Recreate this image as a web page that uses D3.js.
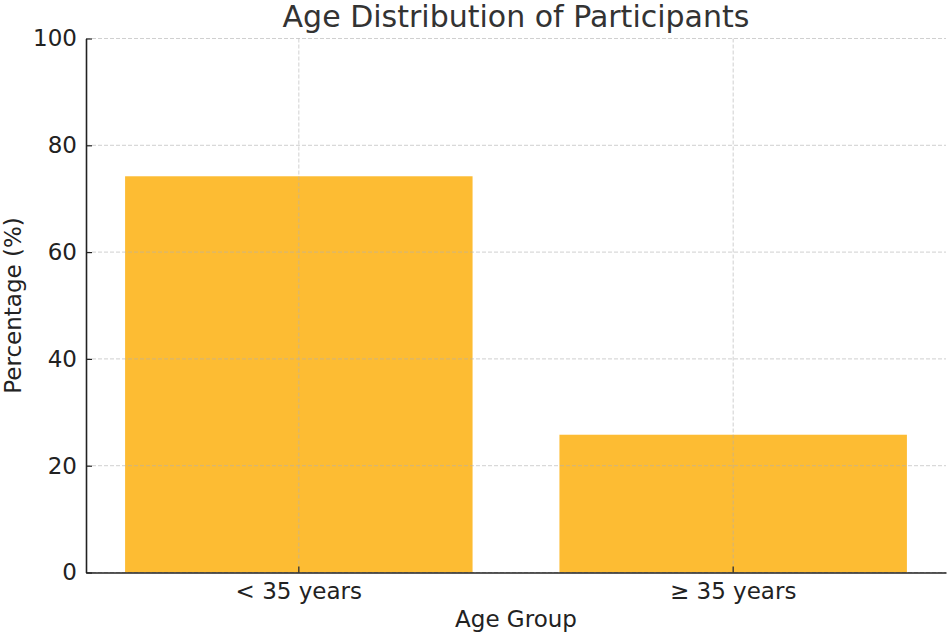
<!DOCTYPE html>
<html>
<head>
<meta charset="utf-8">
<script src="https://cdn.jsdelivr.net/npm/d3@7"></script>
<style>
  body { margin: 0; background: #fff; }
  svg { font-family: "DejaVu Sans", sans-serif; }
</style>
</head>
<body>
<div id="chart"></div>
<script>
// data
const categories = ["< 35 years", "\u2265 35 years"];
const percentages = [74.2, 25.8];
const yTicks = [0, 20, 40, 60, 80, 100];

const wid = 950;
const hei = 636;

// plot area edges
const padLeft = 86;
const padRight = 946;
const padTop = 38.5;
const padBottom = 572.5;

const svg = d3.select("#chart")
    .append("svg")
    .attr("width", wid)
    .attr("height", hei);

// scales
const xScale = d3.scaleBand()
    .domain(categories)
    .range([padLeft, padRight])
    .paddingInner(0.2)
    .paddingOuter(0.09);

const yScale = d3.scaleLinear()
    .domain([0, 100])
    .range([padBottom, padTop]);

// bars
svg.selectAll("rect.bar")
    .data(categories)
    .enter()
    .append("rect")
    .attr("class", "bar")
    .attr("x", d => xScale(d))
    .attr("y", (d, i) => yScale(percentages[i]))
    .attr("width", xScale.bandwidth())
    .attr("height", (d, i) => padBottom - yScale(percentages[i]))
    .attr("fill", "#fdbc33");

// grid lines, drawn over the bars like the original
const grid = svg.append("g")
    .attr("stroke", "#b0b0b0")
    .attr("stroke-opacity", 0.6)
    .attr("stroke-width", 1)
    .attr("stroke-dasharray", "4,2");

grid.selectAll("line.h")
    .data(yTicks)
    .enter()
    .append("line")
    .attr("x1", padLeft)
    .attr("x2", padRight)
    .attr("y1", d => yScale(d))
    .attr("y2", d => yScale(d));

grid.selectAll("line.v")
    .data(categories)
    .enter()
    .append("line")
    .attr("x1", d => xScale(d) + xScale.bandwidth() / 2)
    .attr("x2", d => xScale(d) + xScale.bandwidth() / 2)
    .attr("y1", padTop)
    .attr("y2", padBottom);

// y axis, ticks pointing inward
const yAxis = d3.axisLeft(yScale)
    .tickValues(yTicks)
    .tickSize(-6)
    .tickPadding(9)
    .tickSizeOuter(0);

const yG = svg.append("g")
    .attr("transform", `translate(${padLeft},0)`)
    .call(yAxis);

// x axis, ticks pointing inward
const xAxis = d3.axisBottom(xScale)
    .tickSize(-6)
    .tickPadding(10)
    .tickSizeOuter(0);

const xG = svg.append("g")
    .attr("transform", `translate(0,${padBottom})`)
    .call(xAxis);

[yG, xG].forEach(g => {
    g.select(".domain").attr("stroke", "#222").attr("stroke-width", 1.6);
    g.selectAll(".tick line").attr("stroke", "#222").attr("stroke-width", 1.2);
    g.selectAll(".tick text")
        .attr("fill", "#222")
        .style("font-size", "23px")
        .style("font-family", "DejaVu Sans, sans-serif");
});

// title
svg.append("text")
    .attr("x", (padLeft + padRight) / 2)
    .attr("y", 27)
    .attr("text-anchor", "middle")
    .attr("fill", "#333")
    .style("font-size", "30px")
    .text("Age Distribution of Participants");

// axis labels
svg.append("text")
    .attr("x", (padLeft + padRight) / 2)
    .attr("y", 627)
    .attr("text-anchor", "middle")
    .attr("fill", "#222")
    .style("font-size", "23px")
    .text("Age Group");

svg.append("text")
    .attr("transform", `translate(21,${(padTop + padBottom) / 2}) rotate(-90)`)
    .attr("text-anchor", "middle")
    .attr("fill", "#222")
    .style("font-size", "23px")
    .text("Percentage (%)");
</script>
</body>
</html>
